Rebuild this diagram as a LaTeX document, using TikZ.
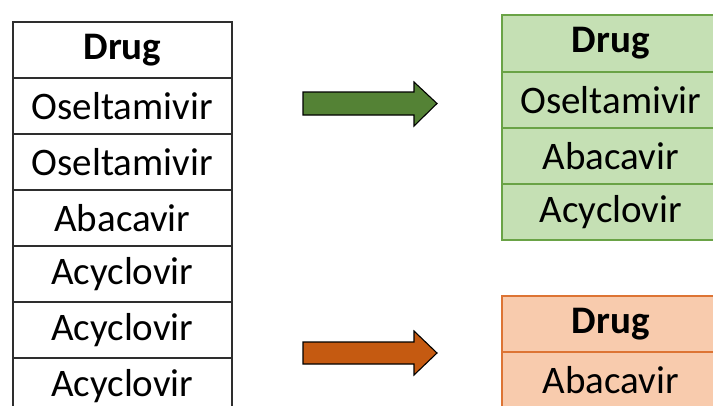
\documentclass[tikz,border=0pt]{standalone}
\usepackage{fontspec}
\setmainfont{Carlito}
\definecolor{gridline}{HTML}{2E2E2E}
\definecolor{keepfill}{HTML}{C5E0B4}
\definecolor{keepline}{HTML}{6AA346}
\definecolor{dropfill}{HTML}{F8CBAD}
\definecolor{dropline}{HTML}{DD7434}
\definecolor{keeparrow}{HTML}{548235}
\definecolor{droparrow}{HTML}{C55A11}
\tikzset{
  cell/.style={draw, line width=1.8pt, inner sep=0pt, anchor=north west,
    font=\fontsize{39}{46}\selectfont},
  plaincell/.style={cell, draw=gridline, fill=white, minimum width=219pt, minimum height=56pt},
  keepcell/.style={cell, draw=keepline, fill=keepfill, minimum width=218pt, minimum height=56pt},
  dropcell/.style={cell, draw=dropline, fill=dropfill, minimum width=218pt, minimum height=56pt},
  head/.style={font=\fontsize{39}{46}\selectfont\bfseries},
  blockarrow/.style={draw=black, line width=1.1pt, line join=miter},
}
\begin{document}
\begin{tikzpicture}[x=1pt, y=-1pt]
\useasboundingbox (0,0) rectangle (713,405);
\clip (0,0) rectangle (713,405);
\fill[white] (0,0) rectangle (713,405);

% full list of drugs
\node[plaincell, head] (l0) at (12,21) {Drug};
\node[plaincell] (l1) at (12,77) {Oseltamivir};
\node[plaincell] (l2) at (12,133) {Oseltamivir};
\node[plaincell] (l3) at (12,189) {Abacavir};
\node[plaincell] (l4) at (12,245) {Acyclovir};
\node[plaincell] (l5) at (12,301) {Acyclovir};
\node[plaincell] (l6) at (12,357) {Acyclovir};

% distinct drugs
\node[keepcell, head, minimum height=57pt] (g0) at (501,14) {Drug};
\node[keepcell] (g1) at (501,71) {Oseltamivir};
\node[keepcell] (g2) at (501,127) {Abacavir};
\node[keepcell] (g3) at (501,183) {Acyclovir};

% drugs occurring once
\node[dropcell, head] (o0) at (501,295) {Drug};
\node[dropcell] (o1) at (501,351) {Abacavir};

% block arrows
\draw[blockarrow, fill=keeparrow]
  (303,92) -- (414,92) -- (414,82) -- (437,103.5) -- (414,126) -- (414,115) -- (303,115) -- cycle;
\draw[blockarrow, fill=droparrow]
  (303,342) -- (414,342) -- (414,331) -- (437,353) -- (414,375) -- (414,364) -- (303,364) -- cycle;
\end{tikzpicture}
\end{document}
